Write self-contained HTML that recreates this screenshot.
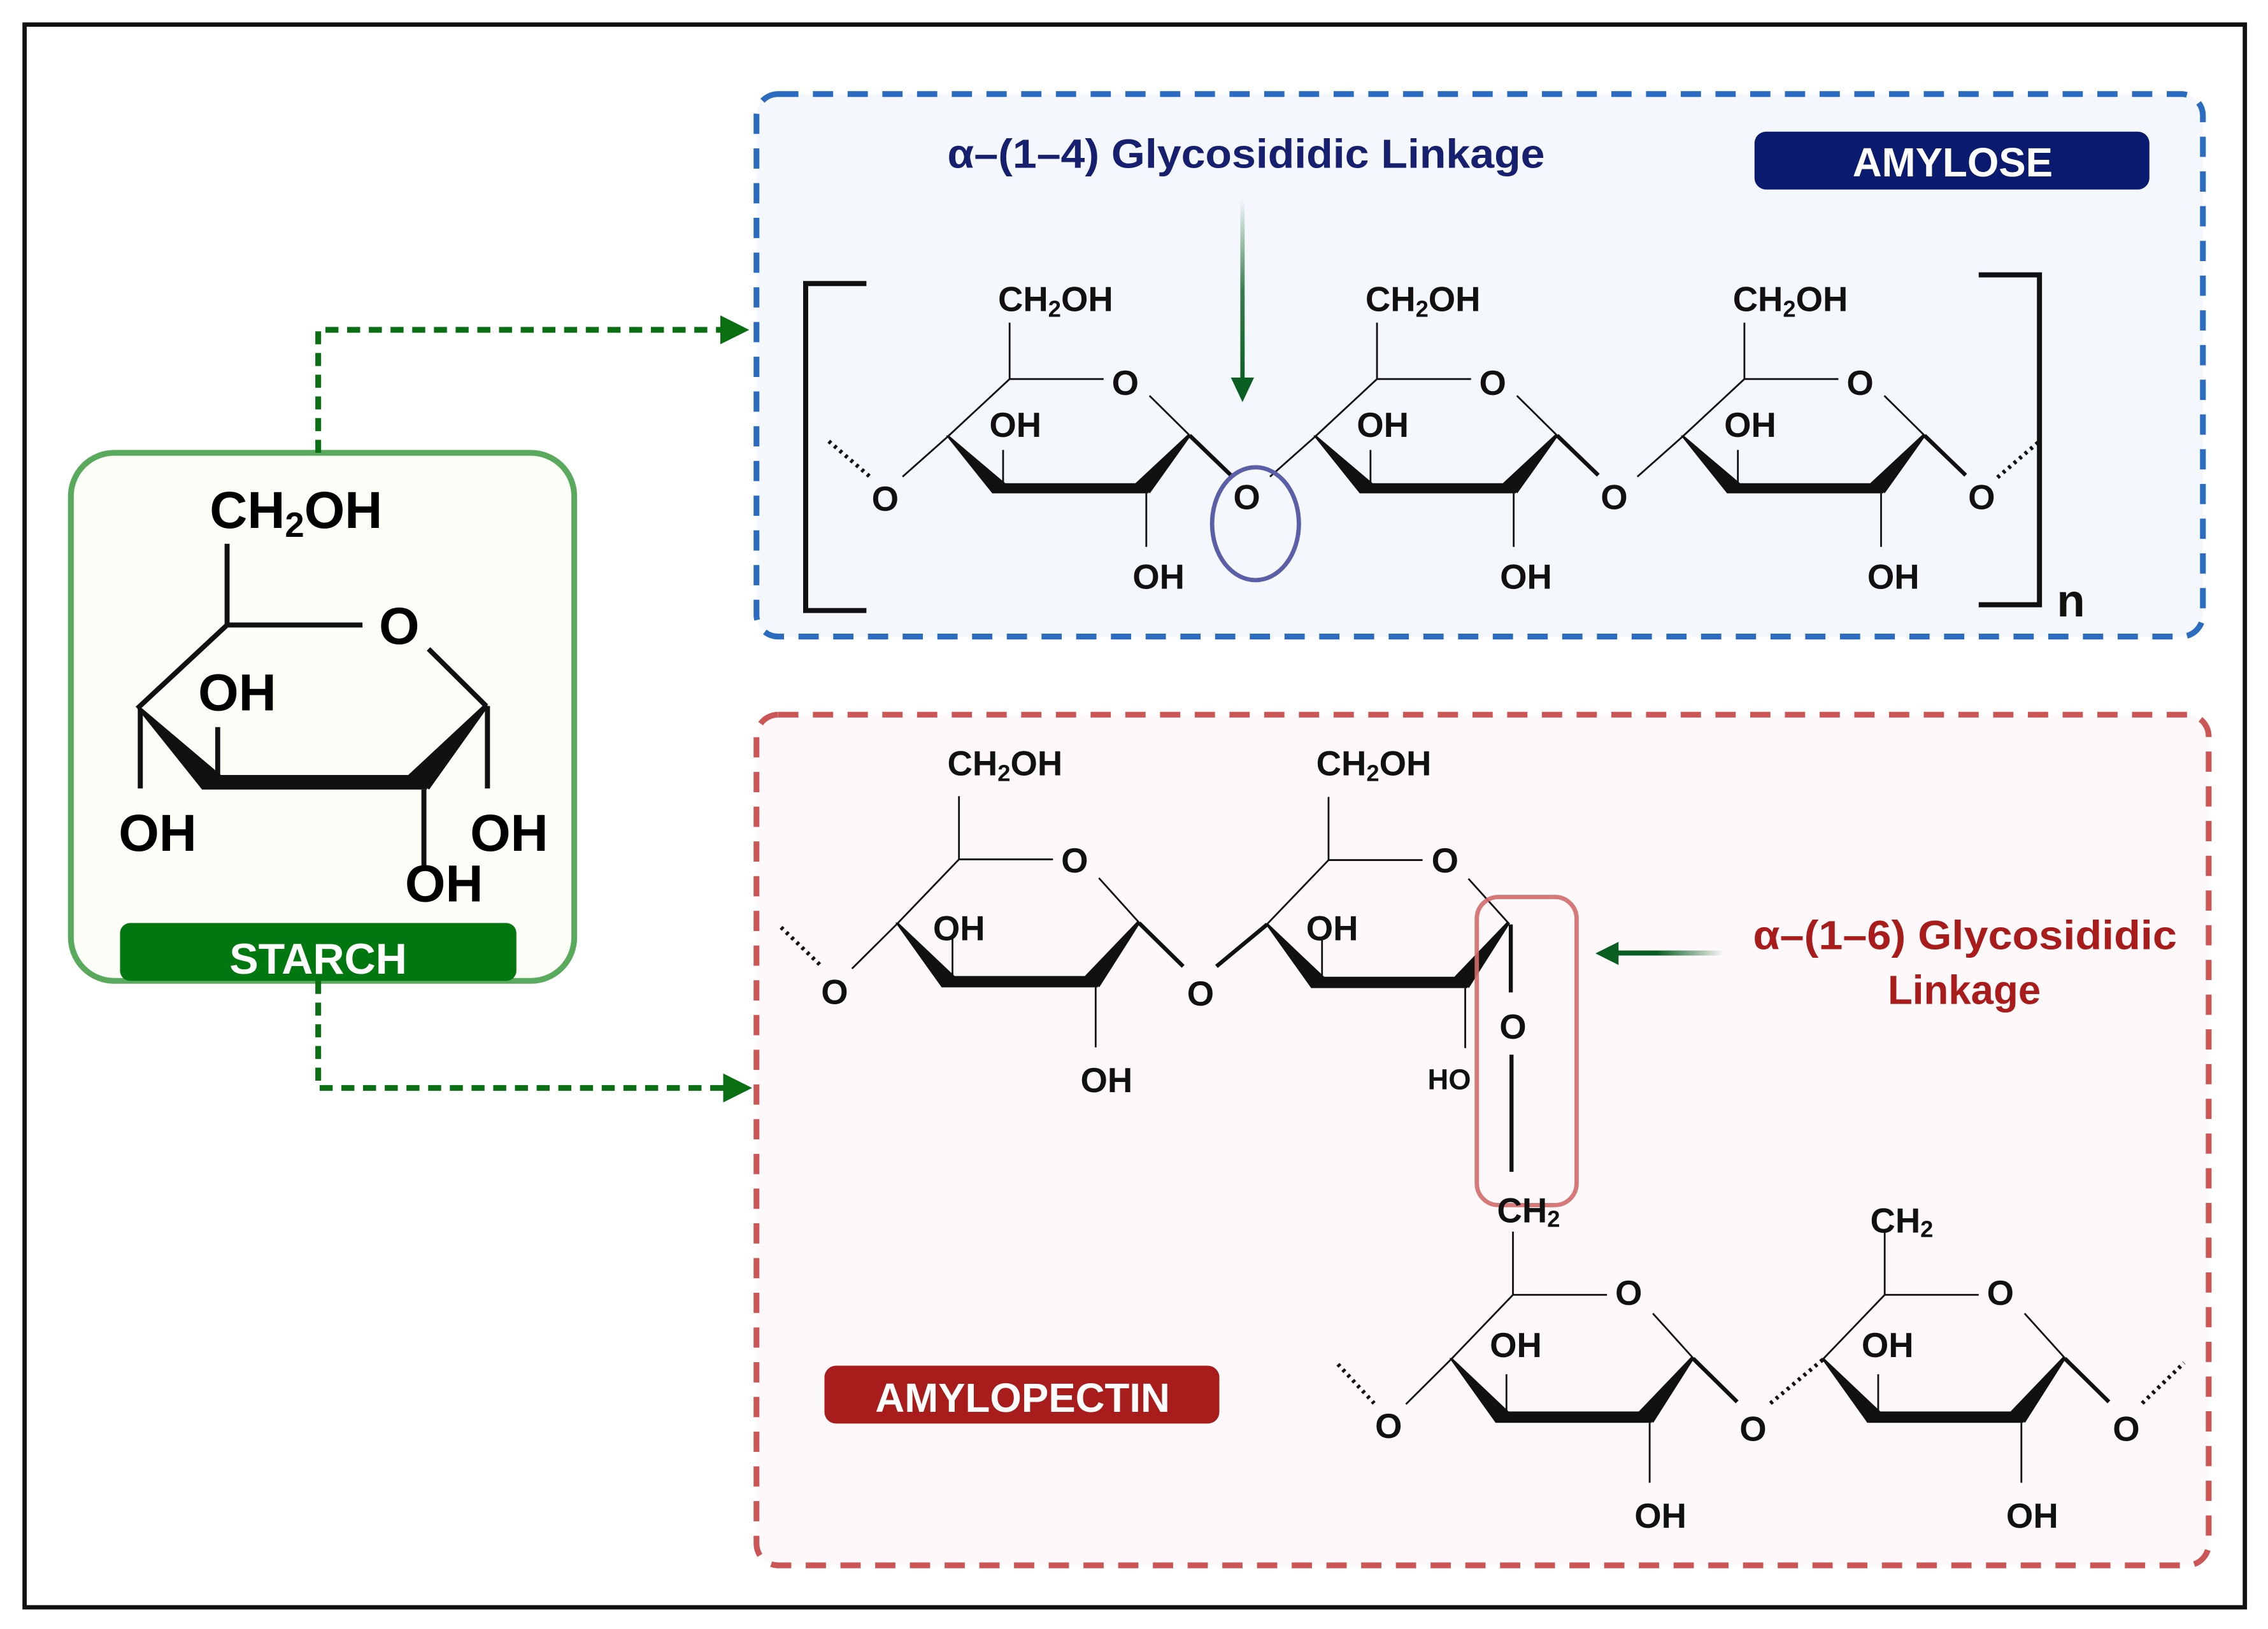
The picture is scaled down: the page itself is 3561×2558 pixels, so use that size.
<!DOCTYPE html>
<html><head><meta charset="utf-8">
<style>
html,body{margin:0;padding:0;background:#fff;}
svg{display:block;}
text{font-family:"Liberation Sans",sans-serif;font-weight:bold;}
</style></head>
<body>
<svg width="3561" height="2558" viewBox="0 0 1568 1126" preserveAspectRatio="none" xmlns="http://www.w3.org/2000/svg">
<defs>
  <linearGradient id="gv" gradientUnits="userSpaceOnUse" x1="0" y1="138" x2="0" y2="264">
    <stop offset="0" stop-color="#0b5e22" stop-opacity="0"/>
    <stop offset="0.5" stop-color="#0b5e22" stop-opacity="0.8"/>
    <stop offset="1" stop-color="#0b5e22"/>
  </linearGradient>
  <linearGradient id="gh" gradientUnits="userSpaceOnUse" x1="1192" y1="0" x2="1115" y2="0">
    <stop offset="0" stop-color="#0b5e22" stop-opacity="0"/>
    <stop offset="0.6" stop-color="#0b5e22"/>
    <stop offset="1" stop-color="#0b5e22"/>
  </linearGradient>
  <g id="ring">
    <g stroke="#111" stroke-width="2.8" fill="none">
      <line x1="0" y1="-39" x2="0" y2="0" vector-effect="non-scaling-stroke"/>
      <line x1="0" y1="0" x2="65" y2="0" vector-effect="non-scaling-stroke"/>
      <line x1="96.7" y1="11.5" x2="124.5" y2="39" vector-effect="non-scaling-stroke"/>
      <line x1="0" y1="0" x2="-43" y2="40" vector-effect="non-scaling-stroke"/>
      <line x1="-4.5" y1="49" x2="-4.5" y2="72" vector-effect="non-scaling-stroke"/>
      <line x1="94.5" y1="79" x2="94.5" y2="116" vector-effect="non-scaling-stroke"/>
    </g>
    <g fill="#111">
      <polygon points="-44,39 -42,39 -3,72 -12,79"/>
      <polygon points="123.5,38 125.5,39 97,79 87,72"/>
      <rect x="-12" y="72" width="108" height="7"/>
    </g>
  </g>
  <g id="ringL">
    <use href="#ring"/>
    <line x1="-43" y1="40" x2="-74" y2="67.5" stroke="#111" stroke-width="2.8" vector-effect="non-scaling-stroke"/>
  </g>
  <g id="ringS">
    <g stroke="#111" stroke-width="2.4" fill="none">
      <line x1="0" y1="-39" x2="0" y2="0"/>
      <line x1="0" y1="0" x2="65" y2="0"/>
      <line x1="96.7" y1="11.5" x2="124.5" y2="39"/>
      <line x1="0" y1="0" x2="-43" y2="40"/>
      <line x1="-4.5" y1="49" x2="-4.5" y2="72"/>
      <line x1="94.5" y1="79" x2="94.5" y2="116"/>
    </g>
    <g fill="#111">
      <polygon points="-44,39 -42,39 -3,72 -12,79"/>
      <polygon points="123.5,38 125.5,39 97,79 87,72"/>
      <rect x="-12" y="72" width="108" height="7"/>
    </g>
  </g>
</defs>

<rect x="0" y="0" width="1568" height="1126" fill="#fff"/>
<rect x="17" y="17" width="1535" height="1094" fill="#fff" stroke="#111" stroke-width="3"/>

<rect x="49" y="313" width="348" height="365" rx="30" fill="#fcfdf6" stroke="#5aaa5e" stroke-width="4"/>
<use href="#ringS" transform="translate(157,432) scale(1.44)"/>
<g stroke="#111" stroke-width="3.5">
  <line x1="97" y1="490" x2="97" y2="545"/>
  <line x1="337" y1="488" x2="337" y2="545"/>
</g>
<g fill="#000" font-size="36">
  <text x="145" y="365">CH<tspan font-size="24" dy="6">2</tspan><tspan dy="-6">OH</tspan></text>
  <text x="262" y="445">O</text>
  <text x="137" y="491">OH</text>
  <text x="82" y="588">OH</text>
  <text x="325" y="588">OH</text>
  <text x="280" y="623">OH</text>
</g>
<rect x="83" y="638" width="274" height="40" rx="7" fill="#00770f"/>
<text x="220" y="673" font-size="30" fill="#fff" text-anchor="middle">STARCH</text>

<g stroke="#0a6e12" stroke-width="4" fill="none" stroke-dasharray="9 6">
  <path d="M220,313 V228 H500"/>
  <path d="M220,678 V752 H500"/>
</g>
<polygon points="498,218 518,228 498,238" fill="#0a6e12"/>
<polygon points="500,742 520,752 500,762" fill="#0a6e12"/>

<rect x="523" y="65" width="1000" height="375" rx="15" fill="#f4f8fd" stroke="#2b6cc0" stroke-width="4" stroke-dasharray="14 10"/>
<rect x="1213" y="91" width="273" height="40" rx="8" fill="#0a1a6e"/>
<text x="1350" y="122" font-size="28" fill="#fff" text-anchor="middle">AMYLOSE</text>
<text x="655" y="116" font-size="28" fill="#16206e" textLength="413" lengthAdjust="spacingAndGlyphs">α–(1–4) Glycosididic Linkage</text>
<rect x="857.5" y="138" width="3" height="126" fill="url(#gv)"/>
<polygon points="851,261 867,261 859,278" fill="#0b5e22"/>

<g stroke="#111" stroke-width="3.5" fill="none">
  <path d="M599,196 H557 V422 H599"/>
  <path d="M1368,190 H1410 V418 H1368"/>
</g>
<text x="1422" y="426" font-size="32" fill="#111">n</text>

<use href="#ringL" transform="translate(698,262)"/>
<use href="#ringL" transform="translate(952,262)"/>
<use href="#ringL" transform="translate(1206,262)"/>
<g stroke="#111" stroke-width="2.8">
  <line x1="822.5" y1="301" x2="851" y2="328.5"/>
  <line x1="1076.5" y1="301" x2="1105" y2="328.5"/>
  <line x1="1330.5" y1="301" x2="1359" y2="328.5"/>
</g>
<g stroke="#111" stroke-width="2.8" stroke-dasharray="2 3">
  <line x1="573" y1="305" x2="602" y2="330"/>
  <line x1="1381" y1="330" x2="1410" y2="305"/>
</g>
<ellipse cx="868" cy="362" rx="30" ry="39" fill="none" stroke="#5b5fa8" stroke-width="3"/>
<g fill="#111" font-size="24">
  <text x="690" y="215">CH<tspan font-size="16" dy="4">2</tspan><tspan dy="-4">OH</tspan></text>
  <text x="944" y="215">CH<tspan font-size="16" dy="4">2</tspan><tspan dy="-4">OH</tspan></text>
  <text x="1198" y="215">CH<tspan font-size="16" dy="4">2</tspan><tspan dy="-4">OH</tspan></text>
  <text x="778" y="273" text-anchor="middle">O</text>
  <text x="1032" y="273" text-anchor="middle">O</text>
  <text x="1286" y="273" text-anchor="middle">O</text>
  <text x="684" y="302">OH</text>
  <text x="938" y="302">OH</text>
  <text x="1192" y="302">OH</text>
  <text x="783" y="407">OH</text>
  <text x="1037" y="407">OH</text>
  <text x="1291" y="407">OH</text>
  <text x="612" y="353" text-anchor="middle">O</text>
  <text x="862" y="352" text-anchor="middle">O</text>
  <text x="1116" y="352" text-anchor="middle">O</text>
  <text x="1370" y="352" text-anchor="middle">O</text>
</g>

<rect x="523" y="494" width="1004" height="588" rx="15" fill="#fdf9fa" stroke="#cc5555" stroke-width="4" stroke-dasharray="14 10"/>
<rect x="570" y="944" width="273" height="40" rx="8" fill="#a81c1c"/>
<text x="707" y="976" font-size="28" fill="#fff" text-anchor="middle">AMYLOPECTIN</text>
<text x="1212" y="656" font-size="28" fill="#a81c1c" textLength="293" lengthAdjust="spacingAndGlyphs">α–(1–6) Glycosididic</text>
<text x="1358" y="694" font-size="28" fill="#a81c1c" text-anchor="middle">Linkage</text>
<rect x="1115" y="657" width="77" height="3.5" fill="url(#gh)"/>
<polygon points="1103,659 1119,651 1119,667" fill="#0b5e22"/>

<use href="#ringL" transform="translate(663,594) scale(1,1.12)"/>
<use href="#ring" transform="translate(918.5,594.5) scale(1,1.12)"/>
<use href="#ringL" transform="translate(1046,895) scale(1,1.12)"/>
<use href="#ring" transform="translate(1303,895) scale(1,1.12)"/>
<g stroke="#111" stroke-width="2.8">
  <line x1="787.5" y1="638" x2="818" y2="668"/>
  <line x1="841" y1="668" x2="876" y2="639"/>
  <line x1="1044.5" y1="639" x2="1044.5" y2="686"/>
  <line x1="1045" y1="729" x2="1045" y2="810"/>
  <line x1="1170.5" y1="939" x2="1201" y2="969"/>
  <line x1="1427.5" y1="939" x2="1458" y2="969"/>
</g>
<g stroke="#111" stroke-width="2.8" stroke-dasharray="2 3">
  <line x1="540" y1="641" x2="567" y2="667"/>
  <line x1="925" y1="943" x2="950" y2="970"/>
  <line x1="1224" y1="970" x2="1260" y2="940"/>
  <line x1="1481" y1="970" x2="1510" y2="942"/>
</g>
<rect x="1021" y="620" width="69" height="213" rx="15" fill="none" stroke="#d46a6a" stroke-width="3" opacity="0.9"/>
<g fill="#111" font-size="24">
  <text x="655" y="536">CH<tspan font-size="16" dy="4">2</tspan><tspan dy="-4">OH</tspan></text>
  <text x="910" y="536">CH<tspan font-size="16" dy="4">2</tspan><tspan dy="-4">OH</tspan></text>
  <text x="743" y="603" text-anchor="middle">O</text>
  <text x="999" y="603" text-anchor="middle">O</text>
  <text x="645" y="650">OH</text>
  <text x="903" y="650">OH</text>
  <text x="747" y="755">OH</text>
  <text x="577" y="694" text-anchor="middle">O</text>
  <text x="830" y="695" text-anchor="middle">O</text>
  <text x="1046" y="718" text-anchor="middle">O</text>
  <text x="987" y="753" font-size="20">HO</text>
  <text x="1035" y="845">CH<tspan font-size="16" dy="3">2</tspan></text>
  <text x="1293" y="852">CH<tspan font-size="16" dy="3">2</tspan></text>
  <text x="1126" y="902" text-anchor="middle">O</text>
  <text x="1383" y="902" text-anchor="middle">O</text>
  <text x="1030" y="938">OH</text>
  <text x="1287" y="938">OH</text>
  <text x="1130" y="1056">OH</text>
  <text x="1387" y="1056">OH</text>
  <text x="960" y="994" text-anchor="middle">O</text>
  <text x="1212" y="996" text-anchor="middle">O</text>
  <text x="1470" y="996" text-anchor="middle">O</text>
</g>
</svg>
</body></html>
